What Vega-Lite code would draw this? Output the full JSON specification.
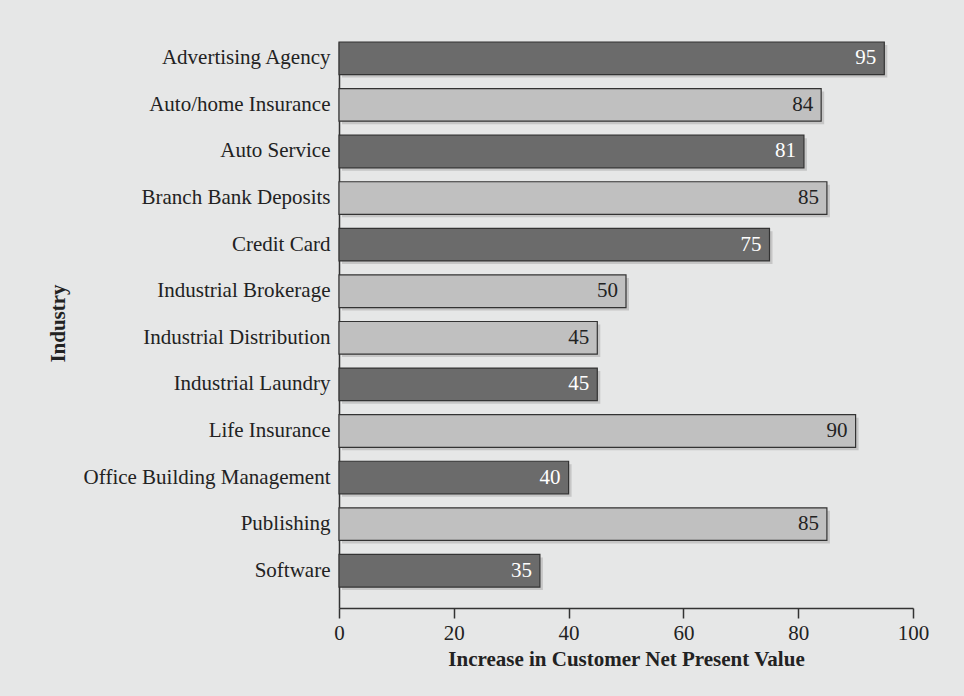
{
  "$schema": "https://vega.github.io/schema/vega-lite/v6.json",
  "width": 574,
  "height": 566,
  "autosize": {"type": "none"},
  "padding": {"left": 339, "top": 42, "right": 51, "bottom": 88},
  "background": "#e6e7e7",
  "config": {
    "view": {"stroke": null},
    "font": "Liberation Serif",
    "axis": {"labelFont": "Liberation Serif", "titleFont": "Liberation Serif", "labelColor": "#222", "titleColor": "#222", "domainColor": "#333", "tickColor": "#333"}
  },
  "data": {
    "values": [
      {"industry": "Advertising Agency", "value": 95, "group": "dark"},
      {"industry": "Auto/home Insurance", "value": 84, "group": "light"},
      {"industry": "Auto Service", "value": 81, "group": "dark"},
      {"industry": "Branch Bank Deposits", "value": 85, "group": "light"},
      {"industry": "Credit Card", "value": 75, "group": "dark"},
      {"industry": "Industrial Brokerage", "value": 50, "group": "light"},
      {"industry": "Industrial Distribution", "value": 45, "group": "light"},
      {"industry": "Industrial Laundry", "value": 45, "group": "dark"},
      {"industry": "Life Insurance", "value": 90, "group": "light"},
      {"industry": "Office Building Management", "value": 40, "group": "dark"},
      {"industry": "Publishing", "value": 85, "group": "light"},
      {"industry": "Software", "value": 35, "group": "dark"}
    ]
  },
  "encoding": {
    "y": {
      "field": "industry", "type": "nominal", "sort": null,
      "scale": {"paddingInner": 0.3, "paddingOuter": 0.225, "align": 0},
      "axis": {"title": "Industry", "titleFontSize": 21, "titleFontWeight": "bold", "labelFontSize": 21, "labelPadding": 9, "labelLimit": 500, "ticks": false, "domain": true, "domainWidth": 1.5, "titleX": -271, "titleY": 281, "titleAngle": 270, "titleBaseline": "bottom", "titleAlign": "center"}
    },
    "x": {
      "field": "value", "type": "quantitative",
      "scale": {"domain": [0, 100]},
      "axis": {"title": "Increase in Customer Net Present Value", "values": [0, 20, 40, 60, 80, 100], "grid": false, "labelFlush": false, "titleFontSize": 21, "titleFontWeight": "bold", "labelFontSize": 21, "tickSize": 10, "tickWidth": 1.5, "domainWidth": 1.5, "labelPadding": 4, "titlePadding": 5}
    }
  },
  "layer": [
    {
      "mark": {"type": "bar", "color": "#b8b8b8", "opacity": 0.7, "xOffset": 3, "yOffset": 3}
    },
    {
      "mark": {"type": "bar", "stroke": "#333", "strokeWidth": 1.2},
      "encoding": {
        "fill": {"field": "group", "type": "nominal", "scale": {"domain": ["dark", "light"], "range": ["#6b6b6b", "#c0c0c0"]}, "legend": null}
      }
    },
    {
      "mark": {"type": "text", "align": "right", "baseline": "middle", "dx": -8, "fontSize": 21, "font": "Liberation Serif"},
      "encoding": {
        "text": {"field": "value", "type": "quantitative"},
        "color": {"field": "group", "type": "nominal", "scale": {"domain": ["dark", "light"], "range": ["#ffffff", "#222222"]}, "legend": null}
      }
    }
  ]
}
